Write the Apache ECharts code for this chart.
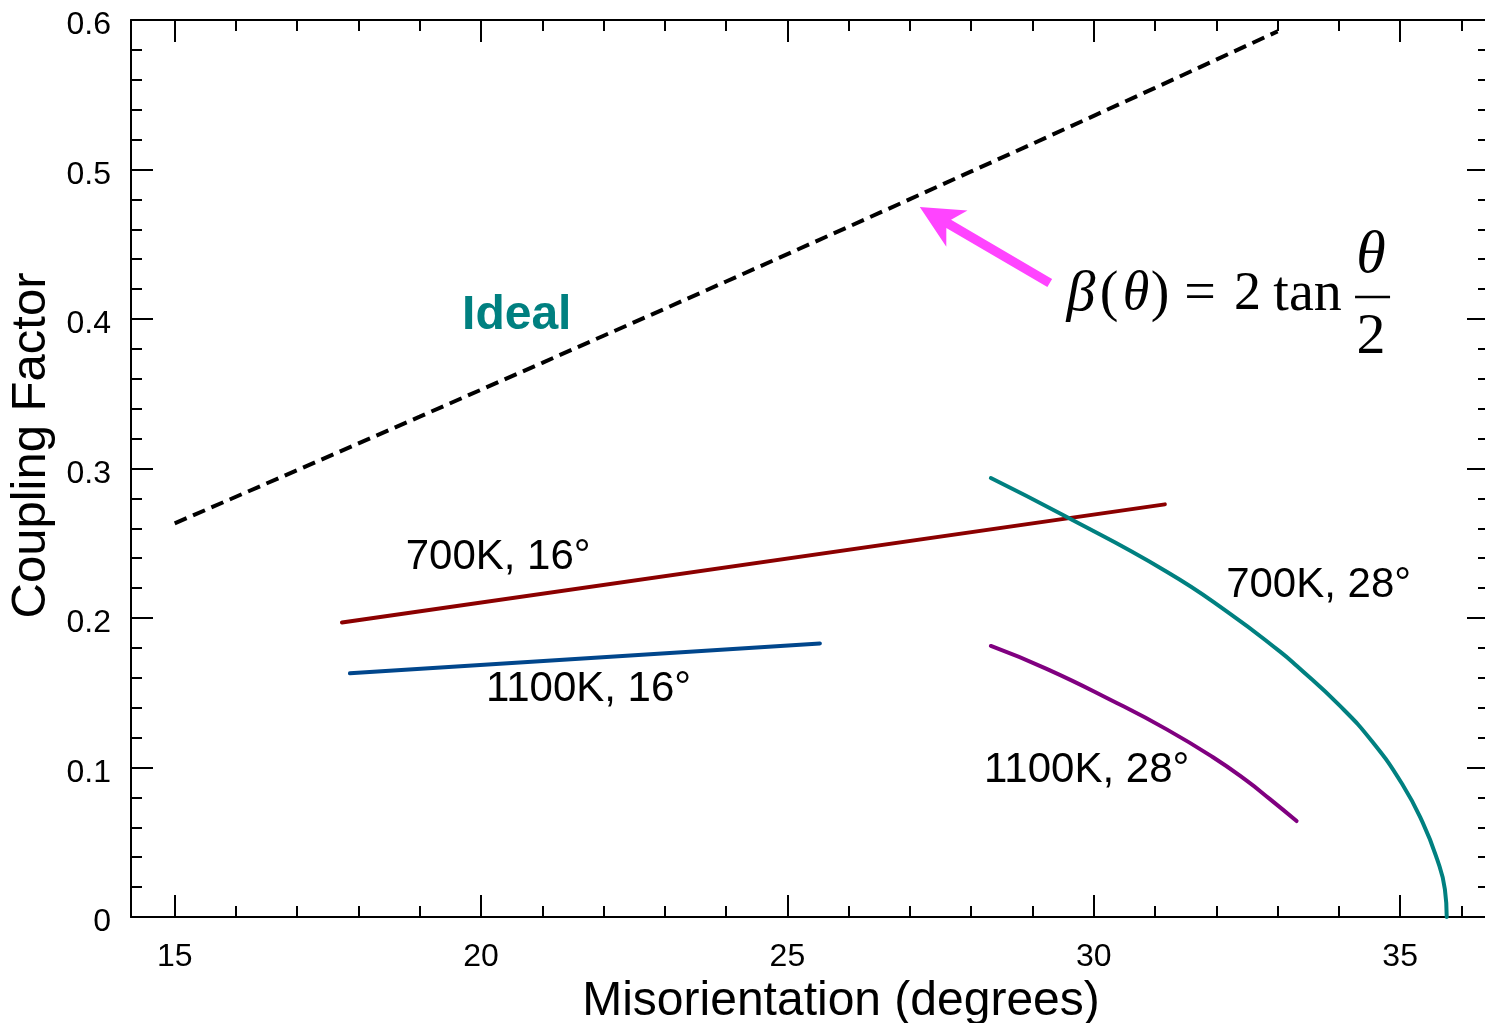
<!DOCTYPE html>
<html>
<head>
<meta charset="utf-8">
<script src="https://cdn.jsdelivr.net/npm/echarts@6/dist/echarts.min.js"></script>
<style>
html,body{margin:0;padding:0;background:#fff;overflow:hidden;}
#chart{width:1485px;height:1023px;}
</style>
</head>
<body>
<div id="chart"></div>
<script>
// ---- tick values ----
const xMajorTicks = [15, 20, 25, 30, 35];
const xMinorTicks = [15, 16, 17, 18, 19, 20, 21, 22, 23, 24, 25, 26, 27, 28, 29, 30, 31, 32, 33, 34, 35, 36];

// ---- series values (misorientation in degrees, coupling factor) ----
const idealTheta = [15, 16, 17, 18, 19, 20, 21, 22, 23, 24, 25, 26, 27, 28, 29, 30, 31, 32, 33];
const idealBeta  = [0.2633, 0.2811, 0.2989, 0.3168, 0.3347, 0.3527, 0.3707, 0.3888, 0.4069, 0.4251,
                    0.4434, 0.4617, 0.4802, 0.4987, 0.5172, 0.5359, 0.5546, 0.5735, 0.5924];

const k700deg16  = [[17.73, 0.197], [31.16, 0.276]];
const k1100deg16 = [[17.86, 0.163], [25.53, 0.183]];
const k700deg28  = [[28.32, 0.2936], [29.49, 0.2690], [31.19, 0.2310], [32.22, 0.2030], [33.04, 0.1775],
                    [33.31, 0.1680], [34.01, 0.1415], [34.55, 0.1170], [35.04, 0.0885], [35.37, 0.0630],
                    [35.60, 0.0390], [35.73, 0.0185], [35.76, 0.0]];
const k1100deg28 = [[28.32, 0.1813], [29.23, 0.1660], [30.31, 0.1445], [31.19, 0.1255], [31.94, 0.1070],
                    [32.50, 0.0910], [32.87, 0.0790], [33.31, 0.0642]];

const seriesNames = ['Ideal', '700K, 16°', '1100K, 16°', '700K, 28°', '1100K, 28°'];

// ---- annotation anchors (data coordinates) ----
const labelAnchors = {
  'Ideal':       [19.69, 0.4023],
  '700K, 16°':   [18.77, 0.2405],
  '1100K, 16°':  [20.08, 0.1522],
  '700K, 28°':   [32.16, 0.2217],
  '1100K, 28°':  [28.21, 0.0983]
};
const formulaAnchor = [29.482, 0.4154];
const arrowTail = [29.281, 0.4241];
const arrowTip  = [27.16, 0.4749];

const X_MIN = 14.287, X_MAX = 36.45;

const SANS = '"Liberation Sans", Arial, Helvetica, sans-serif';
const SERIF = '"Liberation Serif", "Times New Roman", serif';

const chart = echarts.init(document.getElementById('chart'), null, {renderer: 'canvas'});

function xAxisDef(pos, ticks, len, withLabel) {
  const a = {
    type: 'value', position: pos, min: X_MIN, max: X_MAX,
    axisLine: {show: len === 22, onZero: false, lineStyle: {color: '#000', width: 2}},
    axisTick: {show: true, inside: true, length: len, customValues: ticks, lineStyle: {color: '#000', width: 2}},
    axisLabel: {show: false},
    splitLine: {show: false}
  };
  if (withLabel) {
    a.axisLabel = {show: true, customValues: xMajorTicks, fontSize: 32, fontFamily: SANS, color: '#000', margin: 24};
    a.name = 'Misorientation (degrees)';
    a.nameLocation = 'middle';
    a.nameGap = 53;
    a.nameTextStyle = {fontSize: 48, fontFamily: SANS, color: '#000', padding: [0, 0, 0, 62]};
  }
  return a;
}
function yAxisDef(pos, withLabel) {
  const a = {
    type: 'value', position: pos, min: 0, max: 0.6, interval: 0.1,
    axisLine: {show: true, onZero: false, lineStyle: {color: '#000', width: 2}},
    axisTick: {show: true, inside: true, length: 22, lineStyle: {color: '#000', width: 2}},
    minorTick: {show: true, splitNumber: 5, length: 11, lineStyle: {color: '#000', width: 2}},
    axisLabel: {show: false},
    splitLine: {show: false},
    minorSplitLine: {show: false}
  };
  if (withLabel) {
    a.axisLabel = {show: true, fontSize: 32, fontFamily: SANS, color: '#000', margin: 20,
                   verticalAlign: 'top', lineHeight: 11};
    a.name = 'Coupling Factor';
    a.nameLocation = 'middle';
    a.nameGap = 72;
    a.nameTextStyle = {fontSize: 49, fontFamily: SANS, color: '#000', padding: [0, 0, 0, 46]};
  }
  return a;
}

const option = {
  backgroundColor: '#fff',
  animation: false,
  grid: {left: 131, right: -4, top: 20, bottom: 106, containLabel: false, outerBoundsMode: 'none'},
  xAxis: [
    xAxisDef('bottom', xMajorTicks, 22, true),
    xAxisDef('bottom', xMinorTicks, 11, false),
    xAxisDef('top', xMajorTicks, 22, false),
    xAxisDef('top', xMinorTicks, 11, false)
  ],
  yAxis: [
    yAxisDef('left', true),
    yAxisDef('right', false)
  ],
  series: [
    {
      name: seriesNames[0], type: 'line', xAxisIndex: 0, yAxisIndex: 0, showSymbol: false,
      data: idealTheta.map((t, i) => [t, idealBeta[i]]),
      lineStyle: {color: '#000', width: 4, type: [13, 7]}
    },
    {
      name: seriesNames[1], type: 'line', xAxisIndex: 0, yAxisIndex: 0, showSymbol: false,
      data: k700deg16, lineStyle: {color: '#8b0000', width: 4, cap: 'round'}
    },
    {
      name: seriesNames[2], type: 'line', xAxisIndex: 0, yAxisIndex: 0, showSymbol: false,
      data: k1100deg16, lineStyle: {color: '#00468c', width: 4, cap: 'round'}
    },
    {
      name: seriesNames[3], type: 'line', xAxisIndex: 0, yAxisIndex: 0, showSymbol: false, smooth: true,
      data: k700deg28, lineStyle: {color: '#008080', width: 4, cap: 'round'}
    },
    {
      name: seriesNames[4], type: 'line', xAxisIndex: 0, yAxisIndex: 0, showSymbol: false, smooth: true,
      data: k1100deg28, lineStyle: {color: '#800080', width: 4, cap: 'round'}
    }
  ]
};
chart.setOption(option);

function px(p) { return chart.convertToPixel({xAxisIndex: 0, yAxisIndex: 0}, p); }

const graphics = [];
// curve labels
Object.keys(labelAnchors).forEach(k => {
  const p = px(labelAnchors[k]);
  const isIdeal = k === 'Ideal';
  graphics.push({
    type: 'text', x: p[0], y: p[1], silent: true,
    style: {
      text: k, fill: isIdeal ? '#008080' : '#000',
      font: (isIdeal ? 'bold 48px ' : '42px ') + SANS,
      textAlign: 'left', textVerticalAlign: 'middle'
    }
  });
});

// arrow (polygon from tail to tip)
(function () {
  const T = px(arrowTip), S = px(arrowTail);
  const dx = T[0] - S[0], dy = T[1] - S[1];
  const L = Math.hypot(dx, dy);
  const u = [dx / L, dy / L], n = [-u[1], u[0]];
  const headLen = 43, headHalf = 21, notch = 33.5, shaftHalf = 4.7;
  const pt = (d, w) => [T[0] - u[0] * d + n[0] * w, T[1] - u[1] * d + n[1] * w];
  graphics.push({
    type: 'polygon', silent: true,
    shape: {points: [T, pt(headLen, headHalf), pt(notch, shaftHalf), [S[0] + n[0] * shaftHalf, S[1] + n[1] * shaftHalf],
                     [S[0] - n[0] * shaftHalf, S[1] - n[1] * shaftHalf], pt(notch, -shaftHalf), pt(headLen, -headHalf)]},
    style: {fill: '#ff44ff', stroke: null}
  });
})();

// formula beta(theta) = 2 tan(theta/2)
(function () {
  const a = px(formulaAnchor);
  const t = (txt, dx, dy, size, italic) => ({
    type: 'text', x: dx, y: dy, silent: true,
    style: {text: txt, fill: '#000', font: (italic ? 'italic ' : '') + size + 'px ' + SERIF,
            textAlign: 'center', textVerticalAlign: 'middle'}
  });
  graphics.push({
    type: 'group', x: a[0], y: a[1], silent: true,
    children: [
      t('β', 19, -1, 58, true),
      t('(', 47, -1, 56, false),
      t('θ', 74, -1, 54, true),
      t(')', 98, -1, 56, false),
      t('=', 138, -1, 56, false),
      t('2', 185.5, -1, 54, false),
      t('tan', 245.5, -1, 56, false),
      t('θ', 309, -40, 60, true),
      {type: 'line', silent: true, shape: {x1: 293, y1: 1, x2: 328, y2: 1}, style: {stroke: '#000', lineWidth: 2.5}},
      t('2', 309, 42, 58, false)
    ]
  });
})();

chart.setOption({graphic: graphics});
</script>
</body>
</html>
